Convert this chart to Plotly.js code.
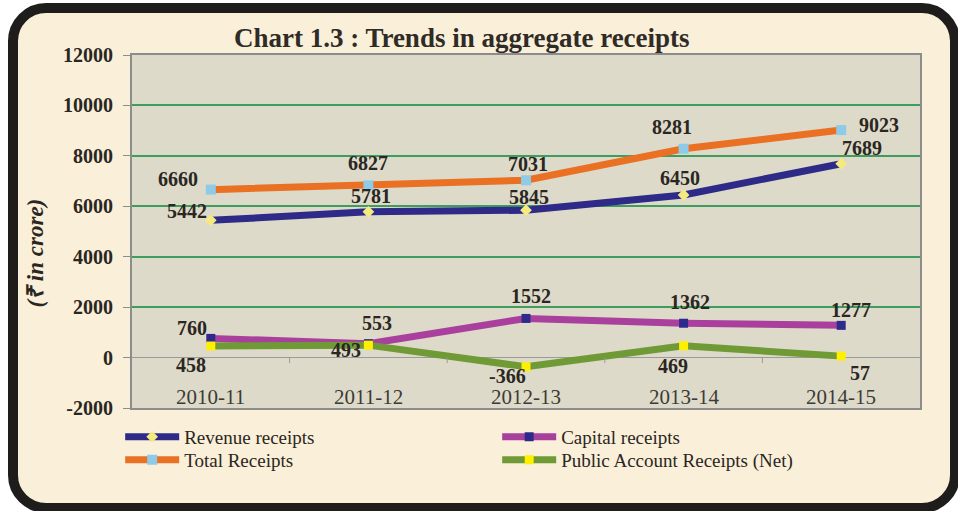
<!DOCTYPE html>
<html>
<head>
<meta charset="utf-8">
<script src="https://cdn.plot.ly/plotly-3.0.1.min.js"></script>
<style>
  html, body { margin:0; padding:0; background:#ffffff; width:958px; height:511px; overflow:hidden; }
  #frame { position:absolute; left:8px; top:3px; width:952px; height:510px; box-sizing:border-box;
           border:10px solid #1f1d1c; border-radius:38px; background:#faefd8; }
  #chart { position:absolute; left:0; top:0; width:958px; height:511px; }
</style>
</head>
<body>
<div id="frame"></div>
<div id="chart"></div>
<script>
// ---- data ----
const categories = ["2010-11", "2011-12", "2012-13", "2013-14", "2014-15"];
const revenueReceipts = [5442, 5781, 5845, 6450, 7689];
const capitalReceipts = [760, 553, 1552, 1362, 1277];
const totalReceipts = [6660, 6827, 7031, 8281, 9023];
const publicAccountReceipts = [458, 493, -366, 469, 57];
const seriesNames = ["Revenue receipts", "Capital receipts", "Total Receipts", "Public Account Receipts (Net)"];
const yTicks = [-2000, 0, 2000, 4000, 6000, 8000, 10000, 12000];

// ---- label offsets (px) : style only ----
const labelShift = {
  rev: [[-24, 9], [3, 16], [3, 13], [-4, 17], [21, 16]],
  cap: [[-19, 10], [9, 21], [5, 22], [6, 21], [10, 15]],
  tot: [[-33, 11], [0, 22], [2, 16], [-12, 22], [38, 5]],
  pub: [[-20, -19], [-22, -5], [-19, -9], [-11, -20], [19, -17]]
};

const serif = "Liberation Serif, Times New Roman, serif";
const xIdx = categories.map((c, i) => i);

function lineTrace(name, ys, lineColor, mSymbol, mColor, mSize, legendId) {
  return {
    type: "scatter", mode: "lines+markers", name: name,
    x: xIdx, y: ys, legend: legendId,
    line: { color: lineColor, width: 7 },
    marker: { symbol: mSymbol, color: mColor, size: mSize, line: { width: 0 } },
    hoverinfo: "x+y"
  };
}

const traces = [
  lineTrace(seriesNames[0], revenueReceipts, "#2d2a88", "diamond", "#f4ea7e", 9, "legend"),
  lineTrace(seriesNames[1], capitalReceipts, "#a9409d", "square", "#2e2a8c", 9, "legend"),
  lineTrace(seriesNames[2], totalReceipts, "#ea7024", "square", "#8dcbe8", 10, "legend2"),
  lineTrace(seriesNames[3], publicAccountReceipts, "#6f9a36", "square", "#fff000", 9, "legend2")
];

const annotations = [];
function addLabels(ys, shifts) {
  ys.forEach((v, i) => {
    annotations.push({
      x: i, y: v, xref: "x", yref: "y", text: String(v), showarrow: false,
      xshift: shifts[i][0], yshift: shifts[i][1],
      font: { family: serif, size: 20, color: "#2a2622", weight: "bold" }
    });
  });
}
addLabels(revenueReceipts, labelShift.rev);
addLabels(capitalReceipts, labelShift.cap);
addLabels(totalReceipts, labelShift.tot);
addLabels(publicAccountReceipts, labelShift.pub);

// category labels inside plot bottom
categories.forEach((c, i) => {
  annotations.push({
    x: i, y: -2000, xref: "x", yref: "y", yanchor: "bottom", text: c, showarrow: false,
    yshift: -3,
    font: { family: serif, size: 21, color: "#3c3a36" }
  });
});

// y-axis title
annotations.push({
  xref: "paper", yref: "paper", x: -0.122, y: 0.44, xanchor: "center", yanchor: "middle",
  text: "(₹ in crore)", textangle: -90, showarrow: false,
  font: { family: serif, size: 23, color: "#2a2622", weight: "bold", style: "italic" }
});

// small ticks on the zero axis between categories
const shapes = [];
for (let i = 0; i < categories.length - 1; i++) {
  shapes.push({ type: "line", xref: "x", yref: "y", x0: i + 0.5, x1: i + 0.5, y0: 0, y1: -220,
                line: { color: "#9a9a9a", width: 1 } });
}

const legendCommon = {
  orientation: "h", x: -0.015, xanchor: "left", yanchor: "top",
  bgcolor: "rgba(0,0,0,0)",
  font: { family: serif, size: 19, color: "#2a2622" },
  itemwidth: 54, entrywidth: 308, entrywidthmode: "pixels",
  traceorder: "normal"
};

const layout = {
  width: 958, height: 511,
  paper_bgcolor: "rgba(0,0,0,0)",
  plot_bgcolor: "#dedac9",
  margin: { l: 132, r: 38, t: 55, b: 103 },
  title: {
    text: "Chart 1.3 : Trends in aggregate receipts",
    x: 0.482, xref: "container", xanchor: "center",
    y: 0.926, yref: "container", yanchor: "middle",
    font: { family: serif, size: 27, color: "#2f2b27", weight: "bold" }
  },
  xaxis: {
    range: [-0.5, 4.5], showticklabels: false, showgrid: false, zeroline: false,
    showline: true, mirror: true, linecolor: "#8c8c8c", linewidth: 2, ticks: "", fixedrange: true
  },
  yaxis: {
    range: [-2000, 12000], tickvals: yTicks, ticktext: yTicks.map(String),
    showgrid: true, gridcolor: "#3f9c5f", gridwidth: 2,
    zeroline: true, zerolinecolor: "#9a9a9a", zerolinewidth: 1.5,
    showline: true, mirror: true, linecolor: "#8c8c8c", linewidth: 2,
    ticks: "outside", ticklen: 7, tickcolor: "#8c8c8c", tickwidth: 1, ticklabelstandoff: 6,
    tickfont: { family: serif, size: 20, color: "#2a2622", weight: "bold" },
    fixedrange: true
  },
  legend: Object.assign({}, legendCommon, { y: -0.028 }),
  legend2: Object.assign({}, legendCommon, { y: -0.093 }),
  showlegend: true,
  annotations: annotations,
  shapes: shapes
};

Plotly.newPlot("chart", traces, layout, { displayModeBar: false, staticPlot: true });
</script>
</body>
</html>
